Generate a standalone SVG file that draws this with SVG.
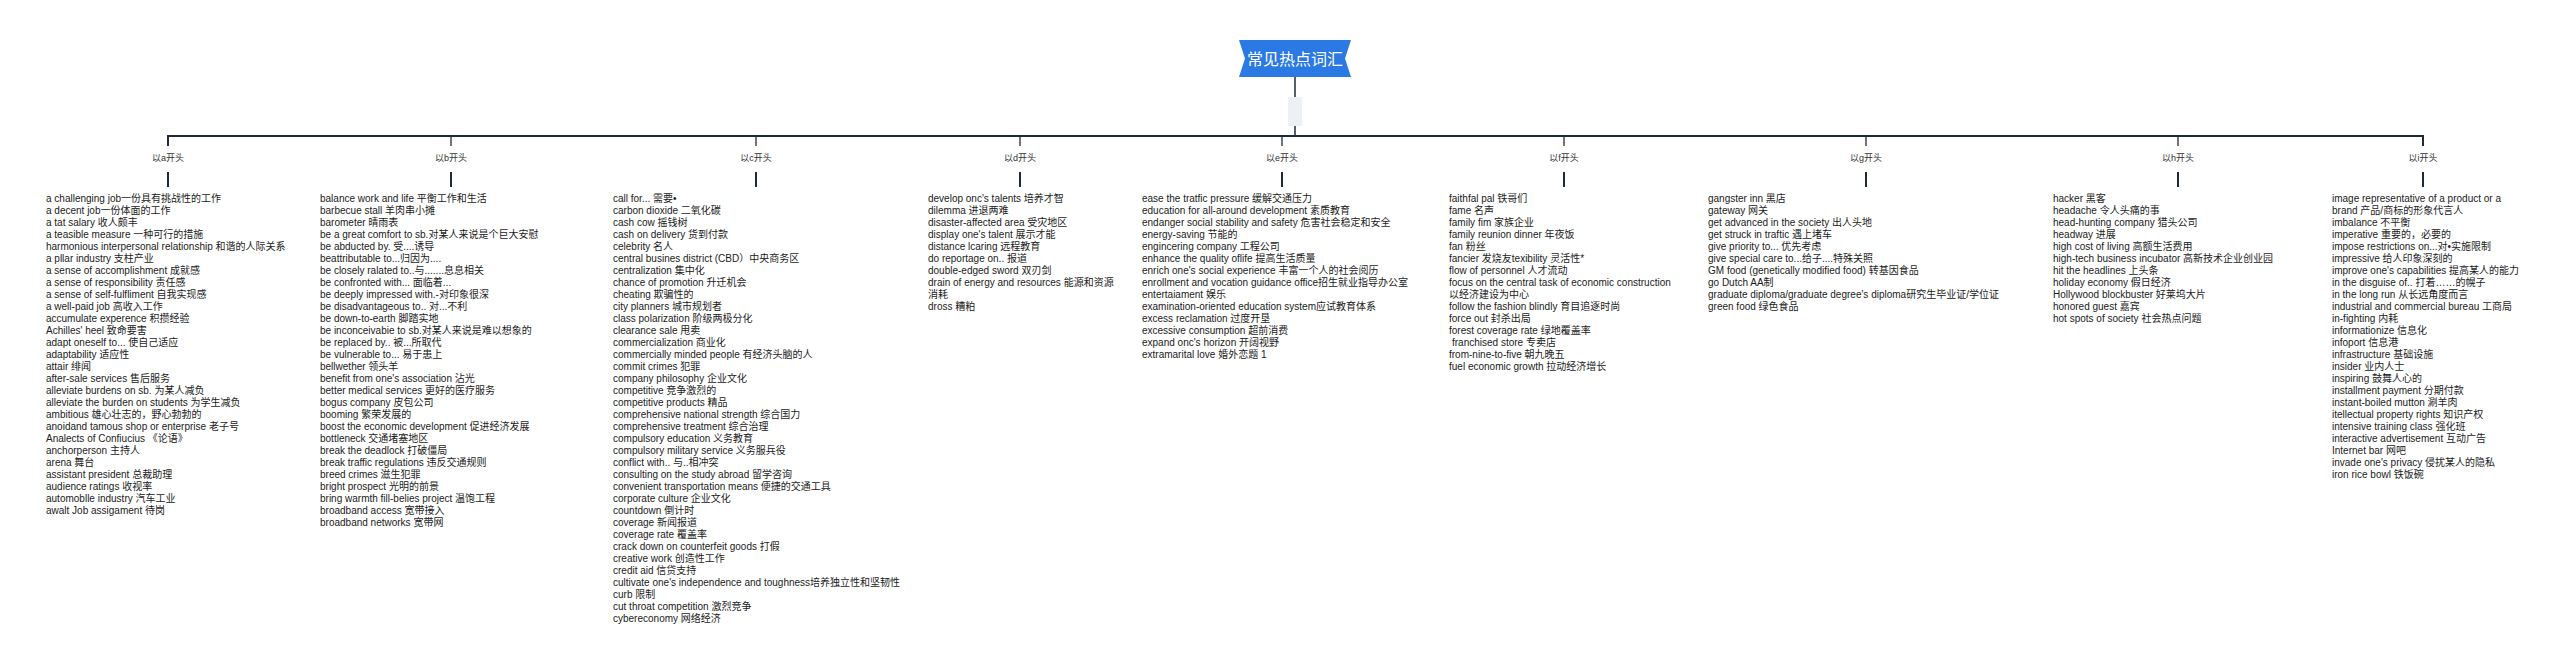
<svg xmlns="http://www.w3.org/2000/svg" width="2560" height="669" viewBox="0 0 2560 669">
<style>
.t{font-family:"Liberation Sans","Noto Sans CJK SC",sans-serif;font-size:10px;fill:#1a1a1a}
.lb{font-family:"Liberation Sans","Noto Sans CJK SC",sans-serif;font-size:9px;fill:#333;text-anchor:middle}
.ttl{font-family:"Liberation Sans","Noto Sans CJK SC",sans-serif;font-size:16px;fill:#fff;text-anchor:middle}
.ln{stroke:#1f2a38;fill:none}
</style>
<rect width="2560" height="669" fill="#fff"/>
<g id="connectors">
<line class="ln" x1="1295" y1="77" x2="1295" y2="136" stroke-width="1.5"/>
<rect x="1288" y="97" width="14" height="29" fill="#edf0f4"/>
<path class="ln" d="M168,146 V136 H2423 V146" stroke-width="2"/>
<g class="ln" stroke-width="1.3">
<line x1="451" y1="136" x2="451" y2="146"/>
<line x1="756" y1="136" x2="756" y2="146"/>
<line x1="1020" y1="136" x2="1020" y2="146"/>
<line x1="1282" y1="136" x2="1282" y2="146"/>
<line x1="1564" y1="136" x2="1564" y2="146"/>
<line x1="1866" y1="136" x2="1866" y2="146"/>
<line x1="2178" y1="136" x2="2178" y2="146"/>
</g>
<g class="ln" stroke-width="2">
<line x1="168" y1="172" x2="168" y2="187"/>
<line x1="451" y1="172" x2="451" y2="187"/>
<line x1="756" y1="172" x2="756" y2="187"/>
<line x1="1020" y1="172" x2="1020" y2="187"/>
<line x1="1282" y1="172" x2="1282" y2="187"/>
<line x1="1564" y1="172" x2="1564" y2="187"/>
<line x1="1866" y1="172" x2="1866" y2="187"/>
<line x1="2178" y1="172" x2="2178" y2="187"/>
<line x1="2423" y1="172" x2="2423" y2="187"/>
</g>
</g>
<g id="root">
<path d="M1239,40 H1351 L1345,58.5 L1351,77 H1239 L1245,58.5 Z" fill="#2b7ae3"/>
<text class="ttl" x="1295" y="64.5">常见热点词汇</text>
</g>
<g id="node-a">
<text class="lb" x="168" y="160.5">以a开头</text>
<text class="t" y="201.5">
<tspan x="46">a challenging job一份具有挑战性的工作</tspan>
<tspan x="46" dy="12">a decent job一份体面的工作</tspan>
<tspan x="46" dy="12">a tat salary 收人颇丰</tspan>
<tspan x="46" dy="12">a teasible measure 一种可行的措施</tspan>
<tspan x="46" dy="12">harmonious interpersonal relationship 和谐的人际关系</tspan>
<tspan x="46" dy="12">a pllar industry 支柱产业</tspan>
<tspan x="46" dy="12">a sense of accomplishment 成就感</tspan>
<tspan x="46" dy="12">a sense of responsibility 责任感</tspan>
<tspan x="46" dy="12">a sense of self-fulfliment 自我实现感</tspan>
<tspan x="46" dy="12">a well-paid job 高收入工作</tspan>
<tspan x="46" dy="12">accumulate experence 积攒经验</tspan>
<tspan x="46" dy="12">Achilles' heel 致命要害</tspan>
<tspan x="46" dy="12">adapt oneself to... 使自己适应</tspan>
<tspan x="46" dy="12">adaptability 适应性</tspan>
<tspan x="46" dy="12">attair 绯闻</tspan>
<tspan x="46" dy="12">after-sale services 售后服务</tspan>
<tspan x="46" dy="12">alleviate burdens on sb. 为某人减负</tspan>
<tspan x="46" dy="12">alleviate the burden on students 为学生减负</tspan>
<tspan x="46" dy="12">ambitious 雄心壮志的，野心勃勃的</tspan>
<tspan x="46" dy="12">anoidand tamous shop or enterprise 老子号</tspan>
<tspan x="46" dy="12">Analects of Confiucius 《论语》</tspan>
<tspan x="46" dy="12">anchorperson 主持人</tspan>
<tspan x="46" dy="12">arena 舞台</tspan>
<tspan x="46" dy="12">assistant president 总裁助理</tspan>
<tspan x="46" dy="12">audience ratings 收视率</tspan>
<tspan x="46" dy="12">automoblle industry 汽车工业</tspan>
<tspan x="46" dy="12">awalt Job assigament 待岗</tspan>
</text>
</g>
<g id="node-b">
<text class="lb" x="451" y="160.5">以b开头</text>
<text class="t" y="201.5">
<tspan x="320">balance work and life 平衡工作和生活</tspan>
<tspan x="320" dy="12">barbecue stall 羊肉串小摊</tspan>
<tspan x="320" dy="12">barometer 晴雨表</tspan>
<tspan x="320" dy="12">be a great comfort to sb.对某人来说是个巨大安慰</tspan>
<tspan x="320" dy="12">be abducted by. 受....诱导</tspan>
<tspan x="320" dy="12">beattributable to...归因为....</tspan>
<tspan x="320" dy="12">be closely ralated to..与.......息息相关</tspan>
<tspan x="320" dy="12">be confronted with... 面临着...</tspan>
<tspan x="320" dy="12">be deeply impressed with.-对印象很深</tspan>
<tspan x="320" dy="12">be disadvantageous to.. 对...不利</tspan>
<tspan x="320" dy="12">be down-to-earth 脚踏实地</tspan>
<tspan x="320" dy="12">be inconceivabie to sb.对某人来说是难以想象的</tspan>
<tspan x="320" dy="12">be replaced by.. 被...所取代</tspan>
<tspan x="320" dy="12">be vulnerable to... 易于患上</tspan>
<tspan x="320" dy="12">bellwether 领头羊</tspan>
<tspan x="320" dy="12">benefit from one's association 沾光</tspan>
<tspan x="320" dy="12">better medical services 更好的医疗服务</tspan>
<tspan x="320" dy="12">bogus company 皮包公司</tspan>
<tspan x="320" dy="12">booming 繁荣发展的</tspan>
<tspan x="320" dy="12">boost the economic development 促进经济发展</tspan>
<tspan x="320" dy="12">bottleneck 交通堵塞地区</tspan>
<tspan x="320" dy="12">break the deadlock 打破僵局</tspan>
<tspan x="320" dy="12">break traffic regulations 违反交通规则</tspan>
<tspan x="320" dy="12">breed crimes 滋生犯罪</tspan>
<tspan x="320" dy="12">bright prospect 光明的前景</tspan>
<tspan x="320" dy="12">bring warmth fill-belies project 温饱工程</tspan>
<tspan x="320" dy="12">broadband access 宽带接入</tspan>
<tspan x="320" dy="12">broadband networks 宽带网</tspan>
</text>
</g>
<g id="node-c">
<text class="lb" x="756" y="160.5">以c开头</text>
<text class="t" y="201.5">
<tspan x="613">call for... 需要•</tspan>
<tspan x="613" dy="12">carbon dioxide 二氧化碳</tspan>
<tspan x="613" dy="12">cash cow 摇钱树</tspan>
<tspan x="613" dy="12">cash on delivery 货到付款</tspan>
<tspan x="613" dy="12">celebrity 名人</tspan>
<tspan x="613" dy="12">central busines district (CBD）中央商务区</tspan>
<tspan x="613" dy="12">centralization 集中化</tspan>
<tspan x="613" dy="12">chance of promotion 升迁机会</tspan>
<tspan x="613" dy="12">cheating 欺骗性的</tspan>
<tspan x="613" dy="12">city planners 城市规划者</tspan>
<tspan x="613" dy="12">class polarization 阶级两极分化</tspan>
<tspan x="613" dy="12">clearance sale 甩卖</tspan>
<tspan x="613" dy="12">commercialization 商业化</tspan>
<tspan x="613" dy="12">commercially minded people 有经济头脑的人</tspan>
<tspan x="613" dy="12">commit crimes 犯罪</tspan>
<tspan x="613" dy="12">company philosophy 企业文化</tspan>
<tspan x="613" dy="12">competitive 竞争激烈的</tspan>
<tspan x="613" dy="12">competitive products 精品</tspan>
<tspan x="613" dy="12">comprehensive national strength 综合国力</tspan>
<tspan x="613" dy="12">comprehensive treatment 综合治理</tspan>
<tspan x="613" dy="12">compulsory education 义务教育</tspan>
<tspan x="613" dy="12">compulsory military service 义务服兵役</tspan>
<tspan x="613" dy="12">conflict with.. 与..相冲突</tspan>
<tspan x="613" dy="12">consulting on the study abroad 留学咨询</tspan>
<tspan x="613" dy="12">convenient transportation means 便捷的交通工具</tspan>
<tspan x="613" dy="12">corporate culture 企业文化</tspan>
<tspan x="613" dy="12">countdown 倒计时</tspan>
<tspan x="613" dy="12">coverage 新闻报道</tspan>
<tspan x="613" dy="12">coverage rate 覆盖率</tspan>
<tspan x="613" dy="12">crack down on counterfeit goods 打假</tspan>
<tspan x="613" dy="12">creative work 创造性工作</tspan>
<tspan x="613" dy="12">credit aid 信贷支持</tspan>
<tspan x="613" dy="12">cultivate one's independence and toughness培养独立性和坚韧性</tspan>
<tspan x="613" dy="12">curb 限制</tspan>
<tspan x="613" dy="12">cut throat competition 激烈竞争</tspan>
<tspan x="613" dy="12">cybereconomy 网络经济</tspan>
</text>
</g>
<g id="node-d">
<text class="lb" x="1020" y="160.5">以d开头</text>
<text class="t" y="201.5">
<tspan x="928">develop onc's talents 培养才智</tspan>
<tspan x="928" dy="12">dilemma 进退两难</tspan>
<tspan x="928" dy="12">disaster-affected area 受灾地区</tspan>
<tspan x="928" dy="12">display one's talent 展示才能</tspan>
<tspan x="928" dy="12">distance lcaring 远程教育</tspan>
<tspan x="928" dy="12">do reportage on.. 报道</tspan>
<tspan x="928" dy="12">double-edged sword 双刃剑</tspan>
<tspan x="928" dy="12">drain of energy and resources 能源和资源</tspan>
<tspan x="928" dy="12">消耗</tspan>
<tspan x="928" dy="12">dross 糟粕</tspan>
</text>
</g>
<g id="node-e">
<text class="lb" x="1282" y="160.5">以e开头</text>
<text class="t" y="201.5">
<tspan x="1142">ease the tratfic pressure 缓解交通压力</tspan>
<tspan x="1142" dy="12">education for all-around development 素质教育</tspan>
<tspan x="1142" dy="12">endanger social stability and safety 危害社会稳定和安全</tspan>
<tspan x="1142" dy="12">energy-saving 节能的</tspan>
<tspan x="1142" dy="12">engincering company 工程公司</tspan>
<tspan x="1142" dy="12">enhance the quality oflife 提高生活质量</tspan>
<tspan x="1142" dy="12">enrich one's social experience 丰富一个人的社会阅历</tspan>
<tspan x="1142" dy="12">enrollment and vocation guidance office招生就业指导办公室</tspan>
<tspan x="1142" dy="12">entertaiament 娱乐</tspan>
<tspan x="1142" dy="12">examination-oriented education system应试教育体系</tspan>
<tspan x="1142" dy="12">excess reclamation 过度开垦</tspan>
<tspan x="1142" dy="12">excessive consumption 超前消费</tspan>
<tspan x="1142" dy="12">expand onc's horizon 开阔视野</tspan>
<tspan x="1142" dy="12">extramarital love 婚外恋题 1</tspan>
</text>
</g>
<g id="node-f">
<text class="lb" x="1564" y="160.5">以f开头</text>
<text class="t" y="201.5">
<tspan x="1449">faithfal pal 铁哥们</tspan>
<tspan x="1449" dy="12">fame 名声</tspan>
<tspan x="1449" dy="12">family fim 家族企业</tspan>
<tspan x="1449" dy="12">family reunion dinner 年夜饭</tspan>
<tspan x="1449" dy="12">fan 粉丝</tspan>
<tspan x="1449" dy="12">fancier 发烧友texibility 灵活性*</tspan>
<tspan x="1449" dy="12">flow of personnel 人才流动</tspan>
<tspan x="1449" dy="12">focus on the central task of economic construction</tspan>
<tspan x="1449" dy="12">以经济建设为中心</tspan>
<tspan x="1449" dy="12">follow the fashion blindly 育目追逐时尚</tspan>
<tspan x="1449" dy="12">force out 封杀出局</tspan>
<tspan x="1449" dy="12">forest coverage rate 绿地覆盖率</tspan>
<tspan x="1452" dy="12">franchised store 专卖店</tspan>
<tspan x="1449" dy="12">from-nine-to-five 朝九晚五</tspan>
<tspan x="1449" dy="12">fuel economic growth 拉动经济增长</tspan>
</text>
</g>
<g id="node-g">
<text class="lb" x="1866" y="160.5">以g开头</text>
<text class="t" y="201.5">
<tspan x="1708">gangster inn 黑店</tspan>
<tspan x="1708" dy="12">gateway 网关</tspan>
<tspan x="1708" dy="12">get advanced in the society 出人头地</tspan>
<tspan x="1708" dy="12">get struck in traftic 遇上堵车</tspan>
<tspan x="1708" dy="12">give priority to... 优先考虑</tspan>
<tspan x="1708" dy="12">give special care to...给子....特殊关照</tspan>
<tspan x="1708" dy="12">GM food (genetically modified food) 转基因食品</tspan>
<tspan x="1708" dy="12">go Dutch AA制</tspan>
<tspan x="1708" dy="12">graduate diploma/graduate degree's diploma研究生毕业证/学位证</tspan>
<tspan x="1708" dy="12">green food 绿色食品</tspan>
</text>
</g>
<g id="node-h">
<text class="lb" x="2178" y="160.5">以h开头</text>
<text class="t" y="201.5">
<tspan x="2053">hacker 黑客</tspan>
<tspan x="2053" dy="12">headache 令人头痛的事</tspan>
<tspan x="2053" dy="12">head-hunting company 猎头公司</tspan>
<tspan x="2053" dy="12">headway 进展</tspan>
<tspan x="2053" dy="12">high cost of living 高额生活费用</tspan>
<tspan x="2053" dy="12">high-tech business incubator 高新技术企业创业园</tspan>
<tspan x="2053" dy="12">hit the headlines 上头条</tspan>
<tspan x="2053" dy="12">holiday economy 假日经济</tspan>
<tspan x="2053" dy="12">Hollywood blockbuster 好莱坞大片</tspan>
<tspan x="2053" dy="12">honored guest 嘉宾</tspan>
<tspan x="2053" dy="12">hot spots of society 社会热点问题</tspan>
</text>
</g>
<g id="node-i">
<text class="lb" x="2423" y="160.5">以i开头</text>
<text class="t" y="201.5">
<tspan x="2332">image representative of a product or a</tspan>
<tspan x="2332" dy="12">brand 产品/商标的形象代言人</tspan>
<tspan x="2332" dy="12">imbalance 不平衡</tspan>
<tspan x="2332" dy="12">imperative 重要的，必要的</tspan>
<tspan x="2332" dy="12">impose restrictions on...对•实施限制</tspan>
<tspan x="2332" dy="12">impressive 给人印象深刻的</tspan>
<tspan x="2332" dy="12">improve one's capabilities 提高某人的能力</tspan>
<tspan x="2332" dy="12">in the disguise of.. 打着……的幌子</tspan>
<tspan x="2332" dy="12">in the long run 从长远角度而言</tspan>
<tspan x="2332" dy="12">industrial and commercial bureau 工商局</tspan>
<tspan x="2332" dy="12">in-fighting 内耗</tspan>
<tspan x="2332" dy="12">informationize 信息化</tspan>
<tspan x="2332" dy="12">infoport 信息港</tspan>
<tspan x="2332" dy="12">infrastructure 基础设施</tspan>
<tspan x="2332" dy="12">insider 业内人士</tspan>
<tspan x="2332" dy="12">inspiring 鼓舞人心的</tspan>
<tspan x="2332" dy="12">installment payment 分期付款</tspan>
<tspan x="2332" dy="12">instant-boiled mutton 涮羊肉</tspan>
<tspan x="2332" dy="12">itellectual property rights 知识产权</tspan>
<tspan x="2332" dy="12">intensive training class 强化班</tspan>
<tspan x="2332" dy="12">interactive advertisement 互动广告</tspan>
<tspan x="2332" dy="12">Internet bar 网吧</tspan>
<tspan x="2332" dy="12">invade one's privacy 侵扰某人的隐私</tspan>
<tspan x="2332" dy="12">iron rice bowl 铁饭碗</tspan>
</text>
</g>
</svg>
